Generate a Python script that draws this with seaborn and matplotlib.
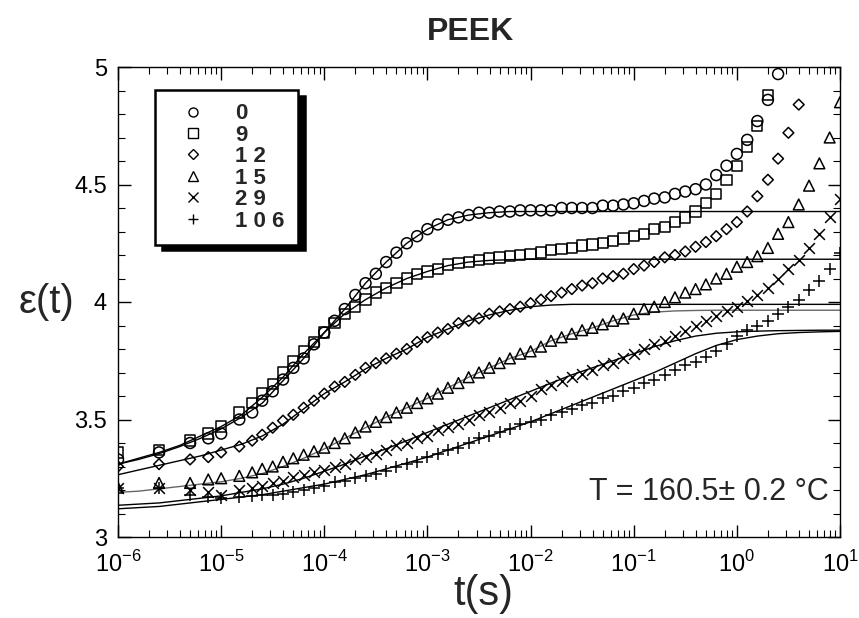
import matplotlib
matplotlib.use("Agg")
import matplotlib.pyplot as plt
from matplotlib.lines import Line2D
from matplotlib.ticker import LogLocator, MultipleLocator, NullFormatter
import seaborn as sns
import pandas as pd

# measurement times (s)
t_data = [
    1e-6, 2.5e-6, 5e-6, 7.5e-6, 1e-5, 1.5e-5, 2e-5, 2.5e-5,
    3.16e-5, 3.98e-5, 5.01e-5, 6.31e-5, 7.94e-5, 1e-4, 1.26e-4, 1.58e-4, 2e-4, 2.51e-4,
    3.16e-4, 3.98e-4, 5.01e-4, 6.31e-4, 7.94e-4, 1e-3, 1.26e-3, 1.58e-3, 2e-3, 2.51e-3,
    3.16e-3, 3.98e-3, 5.01e-3, 6.31e-3, 7.94e-3, 1e-2, 1.26e-2, 1.58e-2, 2e-2, 2.51e-2,
    3.16e-2, 3.98e-2, 5.01e-2, 6.31e-2, 7.94e-2, 1e-1, 1.26e-1, 1.58e-1, 2e-1, 2.51e-1,
    3.16e-1, 3.98e-1, 5.01e-1, 6.31e-1, 7.94e-1, 1.0, 1.26, 1.58, 2.0, 2.51,
    3.16, 3.98, 5.01, 6.31, 7.94, 10.0,
]

# aging time labels
series_labels = ["0", "9", "1 2", "1 5", "2 9", "1 0 6"]

eps_0 = [
    3.33, 3.36, 3.40, 3.42, 3.44, 3.50, 3.53, 3.58,
    3.62, 3.67, 3.72, 3.76, 3.82, 3.87, 3.92, 3.97, 4.03, 4.08,
    4.12, 4.17, 4.21, 4.25, 4.28, 4.31, 4.33, 4.35, 4.36, 4.37,
    4.38, 4.38, 4.385, 4.385, 4.39, 4.39, 4.39, 4.39, 4.40, 4.40,
    4.40, 4.40, 4.41, 4.41, 4.415, 4.42, 4.43, 4.44, 4.445, 4.46,
    4.47, 4.48, 4.50, 4.54, 4.58, 4.63, 4.69, 4.77, 4.86, 4.97,
]
eps_9 = [
    3.36, 3.37, 3.41, 3.44, 3.47, 3.53, 3.57, 3.61,
    3.65, 3.70, 3.75, 3.79, 3.83, 3.87, 3.91, 3.95, 3.98, 4.01,
    4.04, 4.06, 4.08, 4.10, 4.12, 4.13, 4.14, 4.16, 4.165, 4.17,
    4.18, 4.185, 4.19, 4.195, 4.20, 4.205, 4.21, 4.22, 4.225, 4.23,
    4.24, 4.245, 4.25, 4.26, 4.27, 4.28, 4.29, 4.31, 4.32, 4.34,
    4.36, 4.385, 4.42, 4.46, 4.52, 4.58, 4.66, 4.75, 4.88,
]
eps_12 = [
    3.30, 3.31, 3.33, 3.34, 3.36, 3.385, 3.41, 3.435,
    3.465, 3.495, 3.52, 3.55, 3.58, 3.61, 3.64, 3.66, 3.69, 3.72,
    3.74, 3.76, 3.78, 3.80, 3.83, 3.85, 3.87, 3.885, 3.91, 3.92,
    3.93, 3.95, 3.96, 3.97, 3.98, 3.995, 4.01, 4.025, 4.04, 4.055,
    4.07, 4.08, 4.10, 4.11, 4.12, 4.14, 4.155, 4.17, 4.19, 4.20,
    4.215, 4.235, 4.255, 4.28, 4.31, 4.34, 4.385, 4.45, 4.52, 4.61,
    4.72, 4.84,
]
eps_15 = [
    3.21, 3.23, 3.23, 3.245, 3.25, 3.26, 3.275, 3.29,
    3.30, 3.32, 3.335, 3.35, 3.365, 3.38, 3.40, 3.42, 3.445, 3.47,
    3.49, 3.51, 3.53, 3.55, 3.57, 3.59, 3.61, 3.635, 3.655, 3.68,
    3.70, 3.72, 3.74, 3.76, 3.78, 3.79, 3.81, 3.835, 3.85, 3.865,
    3.88, 3.89, 3.905, 3.92, 3.93, 3.95, 3.97, 3.98, 4.00, 4.02,
    4.04, 4.055, 4.075, 4.10, 4.12, 4.15, 4.17, 4.195, 4.23, 4.29,
    4.34, 4.415, 4.495, 4.59, 4.70, 4.85,
]
eps_29 = [
    3.21, 3.21, 3.20, 3.19, 3.18, 3.20, 3.21, 3.215,
    3.23, 3.24, 3.255, 3.265, 3.275, 3.285, 3.30, 3.31, 3.33, 3.34,
    3.355, 3.37, 3.39, 3.40, 3.42, 3.43, 3.455, 3.47, 3.48, 3.50,
    3.52, 3.53, 3.55, 3.57, 3.58, 3.60, 3.63, 3.645, 3.665, 3.68,
    3.695, 3.71, 3.73, 3.74, 3.76, 3.78, 3.80, 3.82, 3.835, 3.855,
    3.875, 3.90, 3.92, 3.94, 3.96, 3.98, 4.005, 4.03, 4.06, 4.10,
    4.14, 4.18, 4.23, 4.29, 4.36, 4.44,
]
eps_106 = [
    3.21, 3.21, 3.18, 3.17, 3.165, 3.17, 3.175, 3.18,
    3.18, 3.185, 3.19, 3.20, 3.21, 3.215, 3.235, 3.24, 3.25, 3.26,
    3.27, 3.28, 3.30, 3.31, 3.32, 3.34, 3.355, 3.37, 3.38, 3.40,
    3.42, 3.43, 3.445, 3.46, 3.48, 3.49, 3.50, 3.52, 3.53, 3.545,
    3.56, 3.57, 3.59, 3.60, 3.62, 3.635, 3.655, 3.67, 3.69, 3.71,
    3.73, 3.745, 3.765, 3.79, 3.82, 3.855, 3.88, 3.90, 3.92, 3.95,
    3.98, 4.01, 4.05, 4.09, 4.14, 4.21,
]

# fitted curves, sampled every 0.2 decade
t_fit = [
    1e-6, 1.58e-6, 2.51e-6, 3.98e-6, 6.31e-6,
    1e-5, 1.58e-5, 2.51e-5, 3.98e-5, 6.31e-5,
    1e-4, 1.58e-4, 2.51e-4, 3.98e-4, 6.31e-4,
    1e-3, 1.58e-3, 2.51e-3, 3.98e-3, 6.31e-3,
    1e-2, 1.58e-2, 2.51e-2, 3.98e-2, 6.31e-2,
    1e-1, 1.58e-1, 2.51e-1, 3.98e-1, 6.31e-1,
    1.0, 1.58, 2.51, 3.98, 6.31, 10.0,
]
fit_0 = [
    3.31, 3.33, 3.355, 3.385, 3.42, 3.46, 3.51, 3.57, 3.665, 3.76,
    3.87, 3.97, 4.08, 4.17, 4.25, 4.31, 4.35, 4.37, 4.38, 4.385,
    4.385, 4.385, 4.385, 4.385, 4.385, 4.385, 4.385, 4.385, 4.385, 4.385,
    4.385, 4.385, 4.385, 4.385, 4.385, 4.385,
]
fit_9 = [
    3.31, 3.335, 3.36, 3.39, 3.43, 3.47, 3.52, 3.595, 3.68, 3.78,
    3.87, 3.95, 4.01, 4.06, 4.10, 4.13, 4.155, 4.17, 4.177, 4.18,
    4.182, 4.182, 4.182, 4.182, 4.182, 4.182, 4.182, 4.182, 4.182, 4.182,
    4.182, 4.182, 4.182, 4.182, 4.182, 4.182,
]
fit_12 = [
    3.265, 3.285, 3.305, 3.325, 3.345, 3.37, 3.395, 3.43, 3.48, 3.545,
    3.61, 3.66, 3.715, 3.76, 3.80, 3.85, 3.885, 3.92, 3.945, 3.965,
    3.98, 3.987, 3.99, 3.99, 3.99, 3.99, 3.99, 3.99, 3.99, 3.99,
    3.99, 3.99, 3.99, 3.99, 3.99, 3.99,
]
fit_15 = [
    3.19, 3.195, 3.205, 3.215, 3.225, 3.235, 3.25, 3.27, 3.30, 3.335,
    3.375, 3.42, 3.465, 3.51, 3.55, 3.59, 3.635, 3.68, 3.72, 3.76,
    3.79, 3.835, 3.865, 3.89, 3.92, 3.945, 3.957, 3.962, 3.964, 3.965,
    3.965, 3.965, 3.965, 3.965, 3.965, 3.965,
]
fit_29 = [
    3.135, 3.14, 3.145, 3.155, 3.165, 3.175, 3.19, 3.205, 3.225, 3.25,
    3.28, 3.31, 3.345, 3.375, 3.41, 3.445, 3.48, 3.515, 3.55, 3.585,
    3.62, 3.655, 3.69, 3.72, 3.75, 3.78, 3.81, 3.835, 3.855, 3.867,
    3.873, 3.876, 3.878, 3.879, 3.88, 3.88,
]
fit_106 = [
    3.12, 3.125, 3.13, 3.14, 3.15, 3.16, 3.17, 3.18, 3.195, 3.21,
    3.225, 3.245, 3.265, 3.29, 3.315, 3.34, 3.37, 3.40, 3.43, 3.46,
    3.49, 3.525, 3.56, 3.595, 3.63, 3.665, 3.70, 3.74, 3.78, 3.815,
    3.84, 3.855, 3.865, 3.87, 3.873, 3.875,
]

data_series = [eps_0, eps_9, eps_12, eps_15, eps_29, eps_106]
fit_series = [fit_0, fit_9, fit_12, fit_15, fit_29, fit_106]
markers = ["o", "s", "D", "^", "x", "+"]
marker_sizes = [62, 55, 30, 60, 60, 65]
fit_colors = ["black", "black", "black", "#666666", "black", "black"]

sns.set_theme(style="ticks")
plt.rcParams["font.family"] = ["Liberation Sans", "DejaVu Sans"]
plt.rcParams["mathtext.fontset"] = "custom"
plt.rcParams["mathtext.rm"] = "Liberation Sans"

fig = plt.figure(figsize=(8.59, 6.18), dpi=100)
ax = fig.add_axes([118 / 859, 1 - 537 / 618, 722 / 859, 470 / 618])

for lab, fit, col in zip(series_labels, fit_series, fit_colors):
    sns.lineplot(x=t_fit, y=fit, ax=ax, color=col, linewidth=1.0,
                 estimator=None, sort=False, legend=False)

for lab, eps, m, s in zip(series_labels, data_series, markers, marker_sizes):
    df = pd.DataFrame({"t": t_data[:len(eps)], "eps": eps})
    if m in ("x", "+"):
        sns.scatterplot(data=df, x="t", y="eps", ax=ax, marker=m, s=s,
                        color="black", linewidth=1.1, legend=False, zorder=3)
    else:
        sns.scatterplot(data=df, x="t", y="eps", ax=ax, marker=m, s=s,
                        facecolor="none", edgecolor="black", linewidth=1.1,
                        legend=False, zorder=3)

ax.set_xscale("log")
ax.set_xlim(1e-6, 10)
ax.set_ylim(3, 5)
ax.set_xticks([1e-6, 1e-5, 1e-4, 1e-3, 1e-2, 1e-1, 1e0, 1e1])
ax.set_xticklabels([r"$10^{-6}$", r"$10^{-5}$", r"$10^{-4}$", r"$10^{-3}$",
                    r"$10^{-2}$", r"$10^{-1}$", r"$10^{0}$", r"$10^{1}$"])
ax.xaxis.set_minor_locator(LogLocator(base=10, subs=range(2, 10), numticks=20))
ax.xaxis.set_minor_formatter(NullFormatter())
ax.yaxis.set_minor_locator(MultipleLocator(0.1))
ax.set_yticks([3, 3.5, 4, 4.5, 5])
ax.set_yticklabels(["3", "3.5", "4", "4.5", "5"])
ax.tick_params(which="both", direction="in", top=True, right=True,
               labelsize=17, colors="black")
ax.tick_params(which="major", length=9, width=1)
ax.tick_params(which="minor", length=5, width=0.8)
ax.tick_params(axis="x", pad=10)
ax.tick_params(axis="y", pad=8)
for sp in ax.spines.values():
    sp.set_linewidth(1.0)
    sp.set_color("black")
ax.set_xlabel("")
ax.set_ylabel("")

fig.text(470 / 859, 1 - 32 / 618, "PEEK", ha="center", va="center",
         fontsize=23, fontweight="heavy")
fig.text(46 / 859, 1 - 302 / 618, "ε(t)", ha="center", va="center",
         fontsize=29)
fig.text(483 / 859, 1 - 594 / 618, "t(s)", ha="center", va="center",
         fontsize=30, family=["Liberation Sans Narrow", "Liberation Sans"])
ax.text(0.985, 0.095, "T = 160.5± 0.2 °C", transform=ax.transAxes,
        ha="right", va="center", fontsize=22)

handles = []
for m in markers:
    if m in ("x", "+"):
        handles.append(Line2D([], [], ls="none", marker=m, color="black",
                              markersize=6.5, markeredgewidth=1.0))
    else:
        handles.append(Line2D([], [], ls="none", marker=m, markersize=6.5 if m != "D" else 5,
                              markerfacecolor="none", markeredgecolor="black",
                              markeredgewidth=1.0))
leg = ax.legend(handles, series_labels, loc="upper left",
                bbox_to_anchor=((155 - 118) / 722, (537 - 90) / 470),
                frameon=True, fancybox=False,
                shadow={"ox": 5, "oy": -4, "color": "black", "alpha": 1},
                prop={"weight": "heavy", "size": 16},
                labelspacing=0.02, handletextpad=0.8, handlelength=2.2,
                borderpad=0.6, borderaxespad=0)
leg.get_frame().set_edgecolor("black")
leg.get_frame().set_linewidth(1.8)
leg.get_frame().set_alpha(1)

fig.savefig("out.png", dpi=100)
